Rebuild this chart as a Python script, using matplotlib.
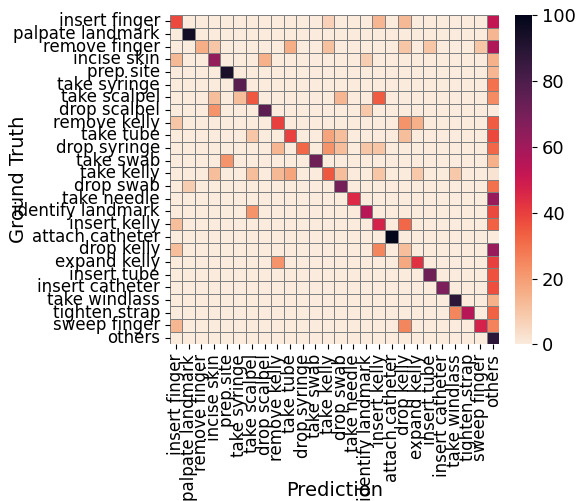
import numpy as np
import matplotlib
matplotlib.use("Agg")
import matplotlib.pyplot as plt
import seaborn as sns

labels = ["insert finger", "palpate landmark", "remove finger", "incise skin",
          "prep site", "take syringe", "take scalpel", "drop scalpel",
          "remove kelly", "take tube", "drop syringe", "take swab", "take kelly",
          "drop swab", "take needle", "identify landmark", "insert kelly",
          "attach catheter", "drop kelly", "expand kelly", "insert tube",
          "insert catheter", "take windlass", "tighten strap", "sweep finger",
          "others"]

# confusion matrix in percent (rows = ground truth)
cm = [
    [38, 0, 0, 0, 0, 0, 0, 0, 0, 0, 0, 0, 7, 0, 0, 0, 14, 0, 13, 0, 0, 0, 0, 0, 0, 52],
    [0, 95, 0, 0, 0, 0, 0, 0, 0, 0, 0, 0, 0, 0, 0, 0, 0, 0, 0, 0, 0, 0, 0, 0, 0, 14],
    [0, 0, 16, 10, 0, 0, 0, 0, 0, 16, 0, 0, 11, 0, 0, 0, 0, 0, 10, 0, 10, 0, 0, 0, 10, 57],
    [13, 0, 0, 63, 0, 0, 0, 15, 0, 0, 0, 0, 0, 0, 0, 8, 0, 0, 0, 0, 0, 0, 0, 0, 0, 15],
    [0, 0, 0, 0, 93, 0, 0, 0, 0, 0, 0, 0, 0, 0, 0, 0, 0, 0, 0, 0, 0, 0, 0, 0, 0, 14],
    [0, 0, 0, 0, 0, 77, 0, 0, 0, 0, 0, 0, 0, 0, 0, 0, 0, 0, 0, 0, 0, 0, 0, 0, 0, 30],
    [0, 0, 0, 12, 0, 12, 35, 0, 0, 0, 0, 0, 0, 14, 0, 0, 34, 0, 0, 0, 0, 0, 0, 0, 0, 24],
    [0, 0, 0, 22, 0, 0, 0, 76, 0, 0, 0, 0, 0, 0, 0, 9, 0, 0, 0, 0, 0, 0, 0, 0, 0, 0],
    [10, 0, 0, 0, 0, 0, 0, 0, 40, 0, 0, 0, 0, 0, 0, 0, 0, 0, 22, 15, 0, 0, 0, 0, 0, 34],
    [0, 0, 0, 0, 0, 0, 10, 0, 0, 40, 0, 0, 18, 12, 0, 0, 0, 0, 12, 0, 0, 0, 0, 0, 0, 38],
    [0, 0, 0, 0, 0, 0, 0, 0, 14, 0, 32, 0, 22, 12, 0, 10, 10, 0, 0, 0, 0, 0, 0, 0, 0, 32],
    [0, 0, 0, 0, 22, 0, 0, 0, 0, 0, 0, 72, 0, 0, 0, 0, 0, 0, 0, 0, 0, 0, 0, 0, 0, 15],
    [0, 0, 0, 12, 0, 0, 12, 0, 13, 18, 0, 0, 35, 12, 0, 0, 10, 0, 0, 9, 0, 0, 9, 0, 0, 2],
    [0, 8, 0, 0, 0, 0, 0, 0, 0, 0, 0, 0, 0, 70, 0, 0, 0, 0, 0, 0, 0, 0, 0, 0, 0, 30],
    [0, 0, 0, 0, 0, 0, 0, 0, 0, 0, 0, 0, 0, 0, 45, 0, 0, 0, 0, 0, 0, 0, 0, 0, 0, 62],
    [0, 0, 0, 0, 0, 0, 22, 0, 0, 0, 0, 0, 0, 0, 0, 55, 0, 0, 0, 0, 0, 0, 0, 0, 0, 38],
    [12, 0, 0, 0, 0, 0, 0, 0, 0, 0, 0, 0, 0, 0, 0, 0, 47, 0, 32, 0, 0, 0, 0, 0, 0, 33],
    [0, 0, 0, 0, 0, 0, 0, 0, 0, 0, 0, 0, 0, 0, 0, 0, 0, 100, 0, 0, 0, 0, 0, 0, 0, 0],
    [12, 0, 0, 0, 0, 0, 0, 0, 0, 0, 0, 0, 0, 0, 0, 0, 25, 0, 12, 0, 0, 0, 0, 0, 0, 62],
    [0, 0, 0, 0, 0, 0, 0, 0, 22, 0, 0, 0, 0, 0, 0, 0, 0, 0, 17, 43, 0, 0, 0, 0, 0, 40],
    [0, 0, 0, 0, 0, 0, 0, 0, 0, 0, 0, 0, 0, 0, 0, 0, 0, 0, 0, 0, 72, 0, 0, 0, 0, 36],
    [0, 0, 0, 0, 0, 0, 0, 0, 0, 0, 0, 0, 0, 0, 0, 0, 0, 0, 0, 0, 0, 68, 0, 0, 0, 37],
    [0, 0, 0, 0, 0, 0, 0, 0, 0, 0, 0, 0, 0, 0, 0, 0, 0, 0, 0, 0, 0, 0, 88, 0, 0, 15],
    [0, 0, 0, 0, 0, 0, 0, 0, 0, 0, 0, 0, 0, 0, 0, 0, 0, 0, 0, 0, 0, 0, 25, 55, 0, 33],
    [14, 0, 0, 0, 0, 0, 0, 0, 0, 0, 0, 0, 0, 0, 0, 0, 0, 0, 25, 0, 0, 0, 0, 0, 47, 26],
    [0, 0, 0, 0, 0, 0, 0, 0, 0, 0, 0, 0, 0, 0, 0, 0, 0, 0, 0, 0, 0, 0, 0, 0, 0, 88],
]
cm = np.array(cm, dtype=float)

fig = plt.figure(figsize=(5.76, 5.01), dpi=100)
ax = fig.add_axes([169.6 / 576, 1 - 344.4 / 501, 329.7 / 576, 329.4 / 501])
cax = fig.add_axes([515 / 576, 1 - 344.4 / 501, 17 / 576, 329.4 / 501])

sns.heatmap(cm, ax=ax, cbar_ax=cax, cmap="rocket_r", vmin=0, vmax=100,
            linewidths=0.5, linecolor="gray",
            xticklabels=labels, yticklabels=labels)

ax.set_xticklabels(labels, rotation=90, fontsize=12)
ax.set_yticklabels(labels, rotation=0, fontsize=12)
ax.set_xlabel("Prediction", fontsize=14)
ax.set_ylabel("Ground Truth", fontsize=14)
ax.xaxis.set_label_coords(0.5, -0.415)
ax.yaxis.set_label_coords(-0.43, 0.5)
cax.tick_params(labelsize=13)

fig.savefig("out.png", dpi=100)
